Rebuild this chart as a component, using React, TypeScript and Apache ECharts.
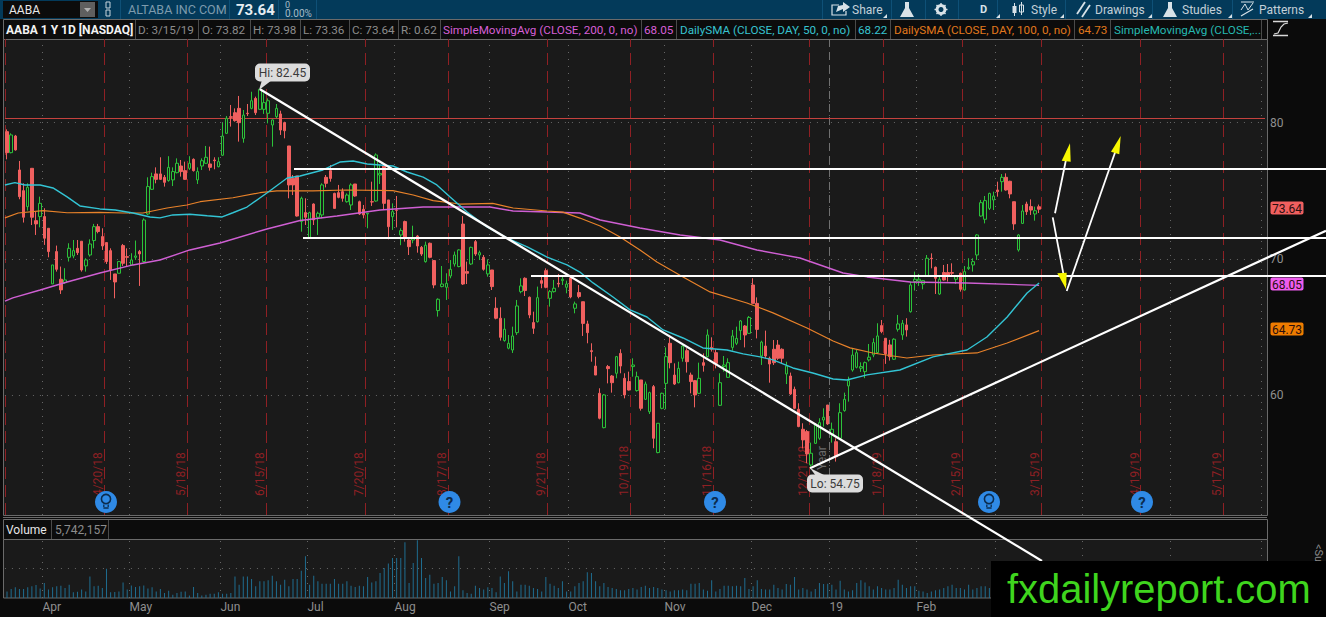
import React, { useEffect, useRef } from "react";
import * as echarts from "echarts";

// Candles: [open, close, low, high]
const candlesSpring = [
  [79.33,77.79,77.3,79.5],[77.79,79.09,77.74,79.21],[79.01,77.99,77.94,79.09],[76.52,74.56,74.37,77.18],[75,73.05,72.66,75.54],
  [73.83,75.25,73.54,75.54],[76.64,73.05,72.48,76.64],[72.8,72.56,71.75,73.46],[73.1,74.07,72.31,74.56],[73.1,71.51,71.02,73.71],
  [72.24,70.53,70.11,72.24],[68.16,69.55,68.16,69.55],[70.53,69.23,69.06,70.97],[68.5,67.72,67.42,69.43],[68.25,68.45,68.16,69.31],
  [70.11,70.77,69.8,71.14],[70.21,70.6,70.04,71.38],[70.77,70.45,70.28,71.38],[71.29,69.18,69.06,71.29],[69.48,69.92,69.06,70.04],
  [70.28,71.09,70.16,71.43],[71.34,72.36,70.77,72.56],[72.36,72,71.87,72.56],[71.63,70.94,70.65,72.24],[71.19,69.8,69.62,71.19],
  [70.6,69.18,68.45,70.77],[68.89,68.3,67.1,68.89],[68.94,69.8,68.94,69.8],[70.97,69.67,69.48,71.09],[70.16,70.11,69.43,70.77],
  [69.55,69.92,69.48,70.41],[70.11,70.21,69.92,71.34],[70.53,70.36,68.01,70.65],[69.8,72.85,69.72,72.97],[73.29,75.3,73.22,75.98],
  [75.1,76.03,75.05,76.32],[76.23,75.83,75.54,76.71],[76.23,75.83,75.79,77.45],[75.98,75.61,75.3,76.15],[75.74,76.71,75.66,77.53],
  [75.79,76.4,75.34,76.71],[76.32,77.01,76.27,77.37],[76.81,76.4,76.03,77.25],[76.47,75.83,75.79,77.13],[76.64,77.01,76.52,77.53],
  [77.3,76.47,76.4,77.37],[75.79,76.4,75.49,76.71],[76.81,77.2,76.52,77.37],[77.01,77.45,76.96,78.28],[76.96,76.71,76.47,78.23],
  [77.25,77.2,76.57,77.45],[76.76,77.13,76.71,77.45],[77.6,79.01,77.55,79.99],[79.21,80.31,79.16,80.48],[80.43,80.38,79.7,81.29],
  [80.72,80.14,80.06,81.04],[81.04,79.99,78.6,81.95],[78.84,80.55,78.52,80.92],[80.68,80.65,80.48,81.36],[81.04,81.6,80.97,82.26],
  [81.77,80.72,80.55,81.9],[80.97,82.44,80.92,82.45],[80.97,81.46,80.63,82.14],[80.68,81.6,79.94,81.77],[79.82,80.19,78.23,80.23],
  [80.43,81.04,80.31,81.36],[80.63,79.45,79.09,80.87],[79.99,79.4,78.84,80.06],[78.28,75.42,74.44,78.28],[75.91,75.42,74.68,76.15],
  [76.08,73.14,73.1,76.08],
];
const candlesSummer = [
  [72.73,74.44,71.99,74.56],[73.39,73.05,72.48,74.44],[71.55,73.39,71.5,73.46],[74.02,72.85,72.48,74.07],[73.05,73.34,71.75,73.46],
  [73.22,75.42,72.97,75.54],[75.98,75.54,75.24,76.15],[76.47,75.9,75.66,76.88],[74.8,73.7,73.7,74.85],[74.85,74.51,74.44,75.42],
  [74.93,74.44,74.19,75.17],[74.19,74.68,74.12,74.8],[73.95,75.42,73.58,75.54],[75.49,74.61,74.56,75.49],[74.19,73.29,73.22,74.27],
  [73.63,73.22,72.97,73.95],[73.29,73.34,72.24,73.34],[74.19,74.17,73.88,75.66],[74.24,77.62,74.19,77.74],[76.15,76.27,75.49,76.88],
  [76.81,74.07,73.58,76.88],[74.32,72.36,71.43,74.32],[73.09,73.46,72.12,74.07],[73.58,73.56,72.31,74.61],[71.75,72.07,71,72.24],
  [72.73,71.58,71.26,72.8],[71.38,70.89,70.28,71.58],[71.38,71.5,71.14,72.43],[71.67,70.94,70.45,71.75],[70.84,70.35,70.21,70.94],
  [69.79,71,69.72,71.26],[71.14,70.11,70.04,71.19],[69.87,68.08,67.84,69.91],[66.2,67.03,65.76,67.1],[67.96,68.15,67.91,69.47],
  [67.91,68.2,66.98,68.94],[68.74,69.23,68.57,69.91],[69.62,70.28,69.43,70.53],[69.43,70.65,69.38,70.7],[72.55,68.15,68.08,73.14],
  [69.06,68.94,68.15,69.79],[69.62,70.84,69.55,70.89],[71.26,70.35,70.21,71.38],[70.28,70.45,69.91,70.6],[70.11,69.23,69.13,70.28],
  [68.89,69.55,68.69,69.96],[69.18,67.96,67.71,69.18],[66.37,65.64,65.56,67.18],[65.64,64.24,64,66.44],[64,64.83,63.92,65.64],
  [63.44,63.8,63.36,64.41],[63.31,64.34,63.09,65.02],[64.58,66.54,64.41,66.98],[67.59,68.01,67.47,68.57],[68.57,67.67,67.27,68.64],
  [67.18,65.88,65.64,67.23],[65.32,64.9,64.49,66.12],[65.39,67.15,65.32,67.96],[68.4,68.2,67.84,68.69],[69.13,67.91,67.84,69.3],
  [67.1,67.59,66.49,67.71],[67.59,67.84,67.52,68.45],[68.2,68.15,67.91,68.89],[68.4,68.5,68.08,68.69],[67.91,68.15,67.47,68.4],
  [68.6,67.2,67.1,68.7],[66.37,66.69,66,66.86],[67.52,67.23,67.1,68.08],
];
const candlesAutumn = [
  [66.85,65.26,64.34,66.85],[65.22,64.58,63.8,65.46],[63.26,63.19,62.45,63.8],[62.13,61.47,61.47,62.82],[60.13,58.3,58.22,60.5],
  [57.61,60.01,57.56,60.08],[62.09,61.94,60.86,62.21],[61.4,60.91,60.18,61.47],[61.6,62.82,61.23,62.87],[63.06,62.13,61.6,63.36],
  [61.23,60.01,59.76,61.6],[60.99,60.37,60.33,61.72],[62.09,62.21,61.35,62.7],[60.33,61.35,60.25,61.72],[61.11,59.03,58.86,61.11],
  [59.69,60.81,59.64,60.99],[58.78,60.18,58.61,60.25],[60.62,56.83,56.1,60.74],[55.78,57.93,55.73,57.93],[59.03,60.13,58.96,60.18],
  [60.86,62.82,58.96,63.5],[63.8,62.38,61.96,64.24],[61.47,60.81,60.74,62.33],[60.91,61.96,60.86,62.45],[62.7,63.6,62.45,63.67],
  [63.26,62.45,61.65,63.43],[61.47,60.99,60.13,61.65],[61.06,60.01,59.1,61.11],[60.13,61.23,60.08,62.38],[62.38,62.18,61.72,63.06],
  [62.82,64.41,62.77,64.82],[63.5,63.36,63.19,64.24],[63.11,62.33,61.96,63.36],[59.25,60.91,59.2,61.6],[62.09,62.21,61.72,62.87],
  [61.3,62.38,61.28,62.7],[63.5,64.34,63.26,64.78],[63.8,64.16,63.67,65.02],[64.73,65.44,64.04,65.51],[65.07,64.41,63.5,65.14],
  [64.53,65.7,64.48,65.8],[68.08,66.73,66.73,68.57],[66.73,64.82,64.16,67.17],[62.87,63.89,62.21,63.99],[63.6,62.87,62.7,64.73],
  [62.7,62.28,60.91,62.82],[63.36,62.38,62.21,64.04],[63.67,62.7,62.58,64.04],[63.36,62.7,62.33,63.43],[61.55,62.13,60.81,62.45],
  [61.4,60.08,60.01,61.65],[60.42,59.03,58.96,60.62],[58.96,57.69,57.64,59.4],[57.49,56.71,56.1,57.93],[57.32,55.68,55,57.44],
  [54.87,55.73,54.75,56.51],[56.46,57.81,56.41,57.93],[56.83,57.98,56.71,58.3],[58.17,58.37,57.69,59.03],[59.27,57.88,57.81,59.27],
  [57.15,57.49,56.51,57.98],[56.58,55.48,55.12,56.83],[56.83,58.71,56.76,59.4],[58.86,59.69,58.78,60.18],[60.67,61.06,59.52,61.35],
  [61.84,62.94,61.72,63.43],[62.04,63.11,61.96,63.31],
];
const candlesWinter = [
  [61.97,62.09,61.7,62.4],[61.72,62.38,61.24,62.46],[62.58,62.78,62.46,63.75],[62.95,63.85,62.78,64.17],[63.12,64.34,63.02,65.27],
  [65.1,64.66,64.54,65.51],[64.17,63.02,62.29,64.17],[63.68,62.82,62.53,64.05],[62.63,64.1,62.58,64.17],[64.83,65.22,64.66,65.88],
  [64.41,65.27,64.05,65.51],[65.15,64.78,64.29,65.64],[66.12,68.08,66.05,68.33],[68.33,68.5,67.67,69.06],[68.37,68.5,68.01,68.89],
  [68.15,68.4,67.76,68.45],[68.74,70.04,68.69,70.28],[70.04,70.01,69.3,70.4],[69.38,68.57,67.42,69.43],[67.42,68.5,67.35,68.81],
  [68.99,68.45,68.4,69.55],[68.99,68.81,68.33,69.62],[68.99,68.94,68.81,69.67],[68.5,68.69,68.15,68.69],[68.94,67.76,67.59,68.99],
  [67.71,69.06,67.67,69.47],[69.28,69.38,69.18,70.04],[69.55,69.79,69.06,70.04],[70.28,71.75,69.92,71.82],[73.14,74.12,73.09,74.32],
  [72.9,74.27,72.6,74.61],[73.7,74.8,73.58,74.85],[74.32,74.61,73.58,74.93],[75.05,74.93,74.56,75.66],[75.66,75.98,74.93,76.22],
  [75.98,75.05,75,76.27],[75.69,74.76,74.44,75.73],[74.19,72.56,72.12,74.19],[70.65,71.75,70.53,71.82],[72.6,73.51,72.56,73.95],
  [74.02,73.46,73.22,74.19],[73.83,73.58,73.22,74.36],[73.29,73.53,72.8,73.83],[73.82,73.64,73.36,73.98],
];

// Volume, millions of shares
const volumeFirstHalf = [
  4.4,6,7.1,6,6,7.1,7.8,8.7,6.4,10,5.6,7.1,7.8,8.2,6.7,8.9,3.8,4.2,5.6,4.4,14.4,7.8,8.2,6.7,19.5,3.8,4,4.4,10.4,5.6,8.4,7.3,7.8,8.4,6.4,7.1,4.4,6,3.3,4.9,
  2.2,3.3,4.2,4.4,1.6,7.3,3.3,1.6,2.2,2.9,2.9,3.8,2.9,2.9,3.3,14.4,8.9,14.4,14.4,12.7,7.8,11.1,11.1,11.8,14.9,11.1,8.9,12.2,7.8,12.7,12.7,18.2,27.8,8.9,14.9,11.1,9.5,9.5,9.5,12.7,
  9.5,9.5,11.1,8.2,7.3,8.2,7.8,14,10.4,11.1,16.7,20,22.9,26.6,26.6,26.6,37.1,10,23.3,38.4,26.6,13.3,15.5,9.5,10,14,11.8,4.4,7.8,27.8,5.1,3.3,2.9,8.2,6.7,5.6,7.1,6.7,3.8,14.4,
  10,17.8,11.1,4.4,8.9,8.9,8.2,6.7,6,4.4,14,9.5,8.2,6.7,11.1,4.4,4.4,7.8,10,11.1,17.1,16.7,11.1,7.8,10,7.3,6.7,6,5.1,5.1,6,6.7,5.6,7.3,8.2,6.7,
];
const volumeSecondHalf = [
  7.3,6.7,5.6,5.1,4.4,5.1,5.1,5.6,5.1,9.5,9.5,10,5.6,4.9,11.8,4.4,6,8.2,8.2,7.8,8.2,7.8,13.3,6,7.8,11.8,6,5.6,5.6,8.9,6.7,5.6,9.3,8.9,14,5.6,6.7,5.6,4.4,6,
  10,9.3,9.5,8.9,5.6,11.5,5.6,4.4,5.1,10,11.8,10.4,7.8,5.6,7.8,6.7,5.6,5.6,6.7,12.2,8.9,6.7,7.8,7.8,4.9,4.4,3.3,4.4,5.1,5.6,6.7,7.8,8.9,6.7,6.7,5.6,8.9,5.6,6.7,7.8,
  7.8,6.7,6,7.3,6.7,5.6,6,9,8,6.5,6,6.2,5.74,
];

// Moving averages: [session position, price]
const sma50 = [[-0.5,75.42],[1.9,75.59],[4.3,75.42],[8,75.42],[11.1,75.2],[14.5,74.54],[17.6,73.88],[22.4,73.66],[26.1,73.58],[30.4,73.36],[34.5,73.07],[36.9,73],[40,73.22],[44.1,73.27],[48.3,73.16],[51.9,73.07],[54.5,73.38],[57.9,73.8],[62.7,74.83],[67.6,75.93],[70.7,76.08],[76.2,76.52],[80.3,77.1],[83.5,77.18],[86.9,76.96],[93.1,76.81],[96.5,76.37],[100.4,76],[103.7,75.42],[106.9,74.54],[111,73.43],[115.8,72.34],[120.6,71.53],[125.5,70.87],[130.3,70.13],[135.1,69.55],[138.2,69.03],[141.4,68.23],[146.2,67.2],[150.3,66.25],[154.4,65.73],[158.3,64.78],[163.1,64.19],[167.9,63.46],[173.7,63.31],[177.6,63.02],[181.7,62.8],[184.8,62.58],[189.6,61.99],[194.4,61.62],[199.3,61.18],[202.6,61.11],[207.5,61.48],[215.4,61.84],[223.4,62.8],[231.6,63.31],[236.4,64.26],[241.3,65.73],[246.1,67.49],[249,68.22]];
const sma100 = [[-0.5,73],[2.7,73.36],[8.7,73.53],[14.5,73.38],[22.4,73.41],[28,73.36],[32.8,73.36],[38.6,73.73],[43.4,73.95],[46.6,74.19],[54.5,74.48],[61,74.85],[65.1,74.98],[73.8,74.98],[82,75.05],[93.1,75],[98,74.68],[102.8,74.27],[109.3,74.02],[117.2,74.07],[122.1,73.73],[130.3,73.51],[134.1,73.43],[138.2,72.99],[143.1,72.41],[147.9,71.6],[152.7,70.65],[156.8,69.77],[163.1,68.67],[169.6,67.57],[178.5,66.76],[184.8,66.03],[193,64.92],[199.3,63.97],[203.4,63.46],[208.9,63.09],[217.1,62.72],[223.4,62.94],[234,63.09],[241.3,63.82],[249,64.73]];
const sma200 = [[-0.5,66.9],[1.4,67.13],[8,67.71],[14.5,68.3],[22.4,68.96],[30.4,69.55],[36.9,69.91],[44.1,70.65],[51.4,71.16],[62.7,72.19],[70.7,72.81],[79.6,73.14],[90,73.58],[100.4,73.8],[116.5,73.8],[122.1,73.51],[130.3,73.43],[138.2,73.36],[143.1,72.85],[152.7,72.26],[162.4,71.75],[172,71.38],[180.9,70.65],[191.3,70.06],[201.7,68.96],[207.5,68.67],[217.9,68.3],[231.6,68.23],[249,68.05]];

const monthLabels = ["Apr", "May", "Jun", "Jul", "Aug", "Sep", "Oct", "Nov", "Dec", "19", "Feb"];
const monthPositions = [8.564, 29.553, 51.507, 72.496, 93.486, 116.405, 135.464, 158.625, 179.614, 198.432, 219.421];
const laterMonthPositions = [238.48, 259.469, 280.699, 302.65];
const expiryPositions = [-0.362, 23.522, 43.546, 62.605, 86.489, 106.513, 130.398, 150.422, 170.446, 193.606, 211.459, 230.518, 249.577, 273.462, 293.486];
const expiryLabels = ["", "4/20/18", "5/18/18", "6/15/18", "7/20/18", "8/17/18", "9/21/18", "10/19/18", "11/16/18", "12/21/18", "1/18/19", "2/15/19", "3/15/19", "4/19/19", "5/17/19"];
const yearPosition = 198.432;
const priceTicks = [80, 70, 60];
const priceAlert = 80.296;
const volumeGuide = 19.67;
const headerCells = [
  { x: 6, t: "AABA 1 Y 1D [NASDAQ]", c: "#f2f2f2", b: true },
  { x: 138, t: "D: 3/15/19", c: "#8c8c8c" },
  { x: 202, t: "O: 73.82", c: "#8c8c8c" },
  { x: 253, t: "H: 73.98", c: "#8c8c8c" },
  { x: 303, t: "L: 73.36", c: "#8c8c8c" },
  { x: 352, t: "C: 73.64", c: "#8c8c8c" },
  { x: 401, t: "R: 0.62", c: "#8c8c8c" },
  { x: 443, t: "SimpleMovingAvg (CLOSE, 200, 0, no)", c: "#d65fd6" },
  { x: 644, t: "68.05", c: "#d65fd6" },
  { x: 680, t: "DailySMA (CLOSE, DAY, 50, 0, no)", c: "#37c3cf" },
  { x: 858, t: "68.22", c: "#37c3cf" },
  { x: 894, t: "DailySMA (CLOSE, DAY, 100, 0, no)", c: "#e0781c" },
  { x: 1078, t: "64.73", c: "#e0781c" },
  { x: 1114, t: "SimpleMovingAvg (CLOSE,...", c: "#26b8b0" },
];
const headerSeps = [135, 198, 250, 300, 349, 398, 440, 641, 676, 855, 890, 1074, 1110, 1261];
const eventBadges = [
  { x: 106, kind: "bulb" },
  { x: 449.5, kind: "?" },
  { x: 715, kind: "?" },
  { x: 989, kind: "bulb" },
  { x: 1142, kind: "?" },
];

const SANS = "Roboto";
const txt = (x: number, y: number, text: string, fill: string, size = 12, extra: any = {}, z = 40, weight = "") => ({
  type: "text", x, y, z, silent: true,
  rotation: extra.rotation || 0,
  style: {
    text, fill,
    font: `${weight} ${size}px ${extra.family || SANS}`.trim(),
    textAlign: extra.align || "left",
    textVerticalAlign: "middle",
  },
});
const rect = (x: number, y: number, w: number, h: number, fill: string, z = 0, stroke?: string, r = 0) => ({
  type: "rect", z, silent: true,
  shape: { x, y, width: w, height: h, r },
  style: { fill, stroke: stroke || "none", lineWidth: stroke ? 1 : 0 },
});
const seg = (x1: number, y1: number, x2: number, y2: number, stroke: string, lineWidth = 2, z = 50) => ({
  type: "line", z, silent: true,
  shape: { x1, y1, x2, y2 },
  style: { stroke, lineWidth },
});
const tri = (pts: number[][], fill: string, z = 51) => ({
  type: "polygon", z, silent: true, shape: { points: pts }, style: { fill },
});
const pl = (pts: number[][], stroke: string, lineWidth = 1.5, z = 41) => ({
  type: "polyline", z, silent: true, shape: { points: pts }, style: { stroke, lineWidth, fill: "none" },
});

function buildGraphics() {
  const els: any[] = [];
  // background panels
  els.push(rect(0, 0, 1326, 617, "#0b0b0b", -2));
  els.push(rect(0, 0, 1326, 19, "#033a5a", -1));
  els.push(rect(3.5, 39.5, 1264, 476, "#1a1a1a", -1, "#6a6a6a"));
  els.push(seg(3, 517.5, 1267, 517.5, "#6a6a6a", 1, -1));
  els.push(rect(3.5, 19.5, 1264, 20, "#0c0c0c", -1, "#6a6a6a"));
  els.push(rect(3.5, 519.5, 1264, 20, "#0c0c0c", -1, "#6a6a6a"));
  els.push(rect(3.5, 539.5, 1264, 58.5, "#1a1a1a", -1, "#6a6a6a"));

  // toolbar
  els.push(rect(3, 1, 95, 17, "#0c0c0c", 30));
  els.push(rect(80, 2, 15, 15, "#5f5f5f", 31));
  els.push(tri([[84, 8], [91, 8], [87.5, 12]], "#b0b0b0", 32));
  els.push(txt(9, 10, "AABA", "#e8e8e8", 12));
  els.push(rect(106, 2, 4, 6, "none", 31, "#c8d4dc"));
  els.push(rect(106, 10, 4, 6, "none", 31, "#c8d4dc"));
  els.push(txt(128, 9.5, "ALTABA INC COM", "#7d9bad", 12.5));
  els.push(txt(236, 9.5, "73.64", "#e6eef2", 15, {}, 40, "bold"));
  els.push(txt(285, 5, "0", "#a7bac6", 9));
  els.push(txt(285, 13, "0.00%", "#a7bac6", 10));
  [120, 229, 278, 316, 822, 891, 925, 958, 997, 1065, 1152, 1232].forEach((x) => els.push(seg(x + 0.5, 0, x + 0.5, 19, "#0e5077", 1, 30)));
  // share
  els.push(pl([[839, 5], [832, 5], [832, 15], [846, 15], [846, 11]], "#d8e2e8", 1.2));
  els.push(tri([[843, 2], [850, 7], [843, 12], [843, 9], [836, 12], [838, 6], [843, 5]], "#d8e2e8"));
  els.push(txt(852, 9.5, "Share", "#c3d0d8", 12));
  // flask
  els.push(tri([[905, 2], [909, 2], [909, 8], [914, 17], [900, 17], [905, 8]], "#d8e2e8"));
  // gear
  els.push({ type: "circle", z: 41, silent: true, shape: { cx: 941, cy: 9.5, r: 4 }, style: { fill: "#033a5a", stroke: "#d8e2e8", lineWidth: 3 } });
  els.push(seg(941, 3, 941, 16, "#d8e2e8", 1.4, 40));
  els.push(seg(934.5, 9.5, 947.5, 9.5, "#d8e2e8", 1.4, 40));
  els.push(seg(936.5, 5, 945.5, 14, "#d8e2e8", 1.4, 40));
  els.push(seg(945.5, 5, 936.5, 14, "#d8e2e8", 1.4, 40));
  els.push(txt(980, 9.5, "D", "#d8e2e8", 11, {}, 40, "bold"));
  // style candle icon
  els.push(seg(1014.5, 3, 1014.5, 16, "#d8e2e8", 1));
  els.push(rect(1012.5, 6, 4, 7, "#d8e2e8", 41));
  els.push(seg(1021.5, 2, 1021.5, 15, "#d8e2e8", 1));
  els.push(rect(1019.5, 5, 4, 7, "#033a5a", 41, "#d8e2e8"));
  els.push(txt(1031, 9.5, "Style", "#c3d0d8", 12));
  // drawings
  els.push(seg(1077, 14, 1085, 2, "#d8e2e8", 1.8));
  els.push(seg(1082, 17, 1090, 5, "#d8e2e8", 1.8));
  els.push(txt(1095, 9.5, "Drawings", "#c3d0d8", 12));
  // studies
  els.push(tri([[1168, 2], [1172, 2], [1172, 8], [1177, 17], [1163, 17], [1168, 8]], "#d8e2e8"));
  els.push(txt(1182, 9.5, "Studies", "#c3d0d8", 12));
  // patterns
  els.push(pl([[1241, 2], [1254, 2]], "#d8e2e8", 1));
  els.push(pl([[1241, 10], [1245, 4], [1248, 10], [1253, 3]], "#d8e2e8", 1));
  els.push(pl([[1241, 16], [1253, 9]], "#d8e2e8", 1.2));
  els.push(txt(1259, 9.5, "Patterns", "#c3d0d8", 12));
  [884, 997, 1061, 1149, 1229, 1309].forEach((x) => els.push(tri([[x + 3, 14], [x + 3, 18], [x - 1, 18]], "#d8e2e8", 41)));

  // study header
  headerCells.forEach((c) => els.push(txt(c.x, 29.5, c.t, c.c, c.b ? 12 : 11.7, {}, 40, c.b ? "bold" : "")));
  headerSeps.forEach((x) => els.push(seg(x + 0.5, 20, x + 0.5, 39, "#4a4a4a", 1, 30)));
  // top-right study icon
  els.push(seg(1273, 21.5, 1288, 21.5, "#d8d8d8", 1.5, 30));
  els.push(seg(1273, 35.5, 1288, 35.5, "#d8d8d8", 1.5, 30));
  els.push(pl([[1274, 34], [1278, 33], [1281, 27], [1284, 24], [1288, 23]], "#d8d8d8", 1.2, 30));

  // volume header
  els.push(txt(6, 529.5, "Volume", "#e6e6e6", 12));
  els.push(txt(55, 529.5, "5,742,157", "#8c8c8c", 12));
  els.push(seg(51.5, 520, 51.5, 539, "#4a4a4a", 1, 30));
  els.push(seg(108.5, 520, 108.5, 539, "#4a4a4a", 1, 30));

  // expiry date labels
  expiryLabels.forEach((t, i) => {
    if (!t) return;
    const lineX = 7 + 4.145 * expiryPositions[i];
    els.push(txt(lineX - 6, 496, t, "#8f2024", 12, { rotation: Math.PI / 2 }, 1));
  });
  els.push(txt(822, 470, "Year", "#6a6a6a", 12, { rotation: Math.PI / 2 }, 1));

  // event badges
  eventBadges.forEach((b) => {
    els.push({ type: "circle", z: 35, silent: true, shape: { cx: b.x, cy: 502, r: 11 }, style: { fill: "#2f8ae6" } });
    if (b.kind === "?") {
      els.push(txt(b.x, 502.5, "?", "#0c2c4e", 15, { align: "center" }, 36, "bold"));
    } else {
      els.push({ type: "circle", z: 36, silent: true, shape: { cx: b.x, cy: 499, r: 4.6 }, style: { fill: "none", stroke: "#0c2c4e", lineWidth: 1.6 } });
      els.push(seg(b.x - 2.2, 504.5, b.x - 2.2, 507, "#0c2c4e", 1.3, 36));
      els.push(seg(b.x + 2.2, 504.5, b.x + 2.2, 507, "#0c2c4e", 1.3, 36));
      els.push(seg(b.x - 2.6, 508, b.x + 2.6, 508, "#0c2c4e", 1.5, 36));
    }
  });

  // hand-drawn annotations
  els.push(seg(294, 169, 1326, 169, "#ffffff", 2));
  els.push(seg(303, 238, 1326, 238, "#ffffff", 2));
  els.push(seg(531, 276, 1326, 276, "#ffffff", 2));
  els.push(seg(260, 89.3, 1042, 561, "#ffffff", 2.2));
  els.push(seg(810, 468.2, 1326, 230.7, "#ffffff", 2.2));
  els.push(seg(1055, 213.3, 1068, 150, "#ffffff", 1.8));
  els.push(tri([[1070, 143.3], [1061.7, 160.7], [1070.7, 161.7]], "#f7f700"));
  els.push(seg(1052.7, 217.3, 1065.5, 285, "#ffffff", 1.8));
  els.push(tri([[1066, 289], [1057.3, 273.3], [1066.7, 272.7]], "#f7f700"));
  els.push(seg(1066.7, 291, 1118, 144, "#ffffff", 1.8));
  els.push(tri([[1120.7, 136], [1111, 151.7], [1119.3, 154.3]], "#f7f700"));

  // Hi / Lo callouts
  els.push(tri([[259, 90], [262, 80], [272, 80]], "#dcdcdc", 52));
  els.push(rect(255, 63.5, 55, 18, "#dcdcdc", 52, undefined, 5));
  els.push(txt(282.5, 73, "Hi: 82.45", "#3a3a3a", 12, { align: "center" }, 53));
  els.push(tri([[810, 468], [816, 476], [826, 476]], "#dcdcdc", 52));
  els.push(rect(807, 474.5, 56, 18, "#dcdcdc", 52, undefined, 5));
  els.push(txt(835, 484, "Lo: 54.75", "#3a3a3a", 12, { align: "center" }, 53));

  // price tags
  [
    { y: 208, t: "73.64", f: "#f0605f" },
    { y: 284, t: "68.05", f: "#ee5cee" },
    { y: 329, t: "64.73", f: "#ef7c00" },
  ].forEach((p) => {
    els.push(rect(1270.5, p.y - 6.5, 33, 13, p.f, 45, undefined, 2));
    els.push(txt(1287, p.y + 0.5, p.t, "#2a0f0f", 12, { align: "center" }, 46));
  });

  // side tab
  els.push(txt(1318, 544, "<Su", "#8a8a8a", 11, { rotation: -Math.PI / 2 }, 30));

  // watermark
  els.push(rect(991, 561, 335, 56, "#000000", 60));
  els.push(txt(1007, 588.5, "fxdailyreport.com", "#3fd51e", 39.9, { family: "Liberation Sans" }, 61));
  return els;
}

export default function App() {
  const ref = useRef<HTMLDivElement>(null);
  useEffect(() => {
    const chart = echarts.init(ref.current!, undefined, { renderer: "svg", width: 1326, height: 617 });
    const candles = [...candlesSpring, ...candlesSummer, ...candlesAutumn, ...candlesWinter];
    const volumes = [...volumeFirstHalf, ...volumeSecondHalf];
    const slots = Array.from({ length: 304 }, (_, i) => String(i));
    const dots = { color: "#666666", type: [1, 6] as number[], width: 1 };
    const vLine = (v: number, lineStyle: any) => ({ xAxis: v, lineStyle });
    const monthLines = [...monthPositions, ...laterMonthPositions].map((v) => vLine(v, dots));
    const step = { left: 4.93, width: 1260.08 };
    const overlayBase = { type: "line", data: [], showSymbol: false, silent: true, animation: false };
    const marker = { silent: true, symbol: "none", label: { show: false }, animation: false };

    chart.setOption({
      animation: false,
      backgroundColor: "#0b0b0b",
      grid: [
        { ...step, top: 39, height: 476 },
        { ...step, top: 539, height: 59 },
      ],
      xAxis: [
        { type: "category", gridIndex: 0, data: slots, show: false },
        { type: "category", gridIndex: 1, data: slots, show: false },
        { type: "value", gridIndex: 0, min: -0.5, max: 303.5, show: false },
        {
          type: "value", gridIndex: 1, min: -0.5, max: 303.5, position: "bottom",
          axisLine: { show: false }, axisTick: { show: false }, splitLine: { show: false },
          axisLabel: {
            show: true, customValues: monthPositions, color: "#8f8f8f", fontSize: 12, fontFamily: SANS,
            margin: 3, align: "left", hideOverlap: false,
            formatter: (v: number) => monthLabels[monthPositions.indexOf(v)] ?? "",
          },
        },
      ],
      yAxis: [
        {
          type: "value", gridIndex: 0, min: 51.2, max: 86.13, position: "right",
          axisLine: { show: false }, axisTick: { show: false }, splitLine: { show: false },
          axisLabel: { customValues: priceTicks, color: "#8f8f8f", fontSize: 12, fontFamily: SANS, margin: 5 },
        },
        { type: "value", gridIndex: 1, min: 0, max: 39.3, show: false },
      ],
      series: [
        {
          ...overlayBase, name: "priceGuides", xAxisIndex: 2, yAxisIndex: 0, z: 1,
          markLine: {
            ...marker, z: 1,
            data: [
              ...monthLines,
              ...expiryPositions.map((v) => vLine(v, { color: "#8f2024", type: [12, 6], width: 1 })),
              vLine(yearPosition, { color: "#707070", type: [8, 5], width: 1 }),
              ...priceTicks.map((v) => ({ yAxis: v, lineStyle: dots })),
              { yAxis: priceAlert, lineStyle: { color: "#c5423e", type: "solid", width: 1 } },
            ],
          },
        },
        {
          ...overlayBase, name: "volumeGuides", xAxisIndex: 3, yAxisIndex: 1, z: 1,
          markLine: {
            ...marker, z: 1,
            data: [...monthLines, { yAxis: volumeGuide, lineStyle: dots }],
          },
        },
        {
          type: "candlestick", name: "AABA", xAxisIndex: 0, yAxisIndex: 0, z: 3, barWidth: 3, silent: true,
          data: candles,
          itemStyle: { color: "#1a1a1a", color0: "#f0605f", borderColor: "#2cc23a", borderColor0: "#f0605f", borderWidth: 1 },
        },
        { type: "line", name: "SMA200", xAxisIndex: 2, yAxisIndex: 0, z: 4, showSymbol: false, silent: true, data: sma200, lineStyle: { color: "#cf5fd3", width: 1.4 } },
        { type: "line", name: "SMA100", xAxisIndex: 2, yAxisIndex: 0, z: 4, showSymbol: false, silent: true, data: sma100, lineStyle: { color: "#e8822a", width: 1.2 } },
        { type: "line", name: "SMA50", xAxisIndex: 2, yAxisIndex: 0, z: 4, showSymbol: false, silent: true, data: sma50, lineStyle: { color: "#33c4d4", width: 1.4 } },
        {
          type: "bar", name: "Volume", xAxisIndex: 1, yAxisIndex: 1, z: 3, barWidth: 1, silent: true,
          data: volumes, itemStyle: { color: "#1f6d90" },
        },
      ],
      graphic: { elements: buildGraphics() },
    });
    return () => chart.dispose();
  }, []);
  return <div ref={ref} style={{ position: "absolute", left: 0, top: 0, width: 1326, height: 617 }} />;
}
